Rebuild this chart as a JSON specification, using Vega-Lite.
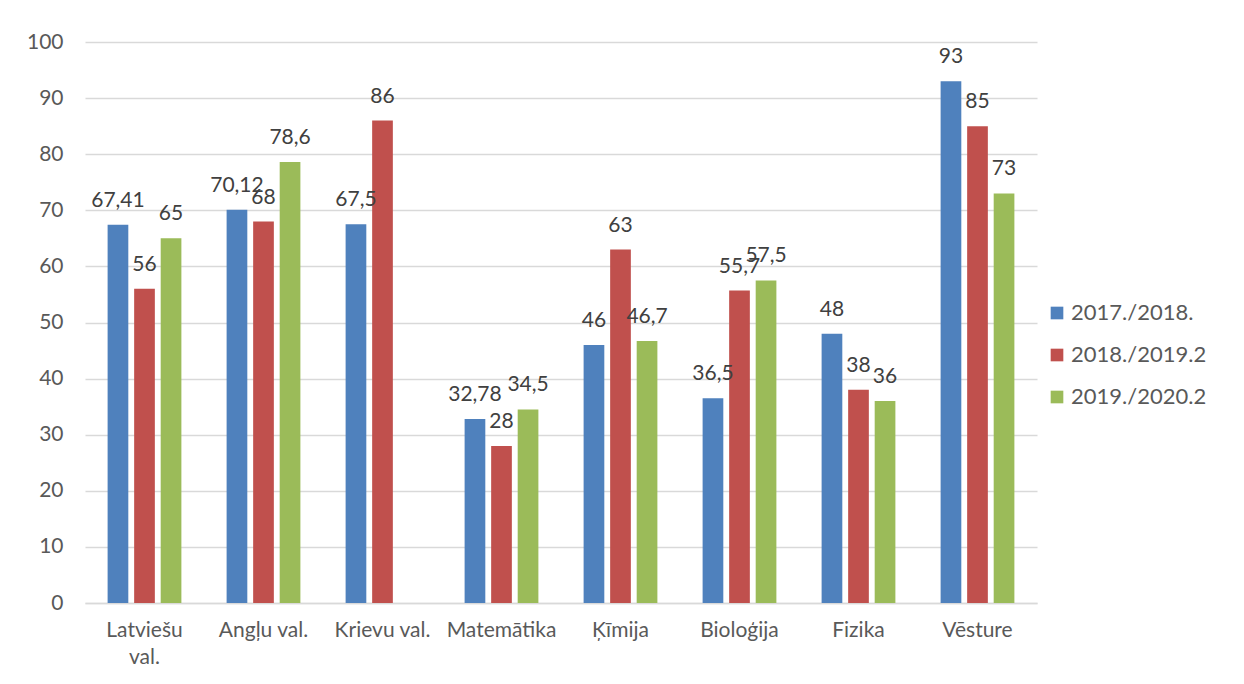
{
  "$schema": "https://vega.github.io/schema/vega-lite/v6.json",
  "width": 952,
  "height": 561,
  "autosize": {"type": "none"},
  "padding": {"left": 85, "top": 42, "right": 207, "bottom": 81},
  "background": "white",
  "config": {
    "font": "Lato",
    "view": {"stroke": null}
  },
  "data": {
    "values": [
      {"subject": "Latviešu val.", "year": "2017./2018.", "value": 67.41, "label": "67,41"},
      {"subject": "Latviešu val.", "year": "2018./2019.2", "value": 56, "label": "56"},
      {"subject": "Latviešu val.", "year": "2019./2020.2", "value": 65, "label": "65"},
      {"subject": "Angļu val.", "year": "2017./2018.", "value": 70.12, "label": "70,12"},
      {"subject": "Angļu val.", "year": "2018./2019.2", "value": 68, "label": "68"},
      {"subject": "Angļu val.", "year": "2019./2020.2", "value": 78.6, "label": "78,6"},
      {"subject": "Krievu val.", "year": "2017./2018.", "value": 67.5, "label": "67,5"},
      {"subject": "Krievu val.", "year": "2018./2019.2", "value": 86, "label": "86"},
      {"subject": "Matemātika", "year": "2017./2018.", "value": 32.78, "label": "32,78"},
      {"subject": "Matemātika", "year": "2018./2019.2", "value": 28, "label": "28"},
      {"subject": "Matemātika", "year": "2019./2020.2", "value": 34.5, "label": "34,5"},
      {"subject": "Ķīmija", "year": "2017./2018.", "value": 46, "label": "46"},
      {"subject": "Ķīmija", "year": "2018./2019.2", "value": 63, "label": "63"},
      {"subject": "Ķīmija", "year": "2019./2020.2", "value": 46.7, "label": "46,7"},
      {"subject": "Bioloģija", "year": "2017./2018.", "value": 36.5, "label": "36,5"},
      {"subject": "Bioloģija", "year": "2018./2019.2", "value": 55.7, "label": "55,7"},
      {"subject": "Bioloģija", "year": "2019./2020.2", "value": 57.5, "label": "57,5"},
      {"subject": "Fizika", "year": "2017./2018.", "value": 48, "label": "48"},
      {"subject": "Fizika", "year": "2018./2019.2", "value": 38, "label": "38"},
      {"subject": "Fizika", "year": "2019./2020.2", "value": 36, "label": "36"},
      {"subject": "Vēsture", "year": "2017./2018.", "value": 93, "label": "93"},
      {"subject": "Vēsture", "year": "2018./2019.2", "value": 85, "label": "85"},
      {"subject": "Vēsture", "year": "2019./2020.2", "value": 73, "label": "73"}
    ]
  },
  "encoding": {
    "x": {
      "field": "subject",
      "type": "nominal",
      "sort": ["Latviešu val.", "Angļu val.", "Krievu val.", "Matemātika", "Ķīmija", "Bioloģija", "Fizika", "Vēsture"],
      "scale": {"paddingInner": 0.38, "paddingOuter": 0.19},
      "axis": {
        "title": null,
        "labelAngle": 0,
        "ticks": false,
        "domainColor": "#D9D9D9",
        "domainWidth": 1.5,
        "labelPadding": 16,
        "labelFont": "Lato",
        "labelFontSize": 21,
        "labelColor": "#595959",
        "labelLineHeight": 27,
        "labelOverlap": false,
        "labelExpr": "datum.value == 'Latviešu val.' ? ['Latviešu', 'val.'] : datum.value"
      }
    },
    "xOffset": {
      "field": "year",
      "type": "nominal",
      "sort": ["2017./2018.", "2018./2019.2", "2019./2020.2"],
      "scale": {"paddingInner": 0.22, "paddingOuter": 0}
    },
    "y": {
      "field": "value",
      "type": "quantitative",
      "scale": {"domain": [0, 100], "nice": false},
      "axis": {
        "title": null,
        "values": [0, 10, 20, 30, 40, 50, 60, 70, 80, 90, 100],
        "labelOverlap": false,
        "domain": false,
        "ticks": false,
        "gridColor": "#D9D9D9",
        "gridWidth": 1.5,
        "labelPadding": 22,
        "labelFont": "Lato",
        "labelFontSize": 21,
        "labelColor": "#595959"
      }
    }
  },
  "layer": [
    {
      "mark": {"type": "bar"},
      "encoding": {
        "color": {
          "field": "year",
          "type": "nominal",
          "sort": ["2017./2018.", "2018./2019.2", "2019./2020.2"],
          "scale": {"domain": ["2017./2018.", "2018./2019.2", "2019./2020.2"], "range": ["#4F81BD", "#C0504D", "#9BBB59"]},
          "legend": {
            "title": null,
            "orient": "none",
            "legendX": 961,
            "legendY": 260,
            "symbolType": "square",
            "symbolSize": 160,
            "symbolStrokeWidth": 0,
            "labelFontSize": 22,
            "labelColor": "#595959",
            "labelFont": "Lato",
            "rowPadding": 20,
            "labelOffset": 3
          }
        }
      }
    },
    {
      "mark": {"type": "text", "baseline": "alphabetic", "dy": -18, "fontSize": 21, "color": "#404040", "font": "Lato"},
      "encoding": {"text": {"field": "label"}}
    }
  ]
}
